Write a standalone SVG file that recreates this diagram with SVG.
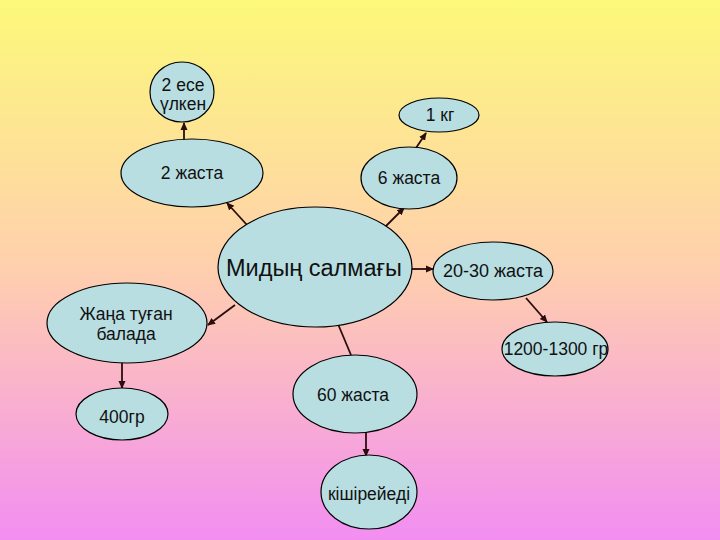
<svg xmlns="http://www.w3.org/2000/svg" width="720" height="540" viewBox="0 0 720 540">
<defs>
<linearGradient id="bg" x1="0" y1="0" x2="0" y2="1">
<stop offset="0" stop-color="#FCF97A"/>
<stop offset="0.5" stop-color="#FFCFAE"/>
<stop offset="1" stop-color="#F28EF2"/>
</linearGradient>
<marker id="ah" markerWidth="8" markerHeight="8" refX="7" refY="4" orient="auto" markerUnits="userSpaceOnUse">
<path d="M0,0.5 L8,4 L0,7.5 Z" fill="#2a0d0d"/>
</marker>
<style>
.n ellipse{fill:#B8DEE2;stroke:#000;stroke-width:1.2}
.n text{font-family:"Liberation Sans",Arial,sans-serif;font-size:17.5px;fill:#111;text-anchor:middle}
.c line{stroke:#2a0d0d;stroke-width:1.8}
</style>
</defs>
<rect width="720" height="540" fill="url(#bg)"/>
<g class="c">
<line x1="184" y1="140" x2="184" y2="123" marker-end="url(#ah)"/>
<line x1="416" y1="148" x2="426" y2="133" marker-end="url(#ah)"/>
<line x1="247" y1="225" x2="227" y2="203" marker-end="url(#ah)"/>
<line x1="385" y1="227" x2="404" y2="208" marker-end="url(#ah)"/>
<line x1="412" y1="269" x2="433" y2="269" marker-end="url(#ah)"/>
<line x1="526" y1="298" x2="547" y2="322" marker-end="url(#ah)"/>
<line x1="235" y1="305" x2="208" y2="325" marker-end="url(#ah)"/>
<line x1="122" y1="363" x2="122" y2="388" marker-end="url(#ah)"/>
<line x1="338" y1="324" x2="351" y2="355"/>
<line x1="366" y1="433" x2="366" y2="456" marker-end="url(#ah)"/>
</g>
<g id="n-2ese" class="n"><ellipse cx="182" cy="92" rx="32" ry="30"/><text x="183" y="91">2 есе</text><text x="183" y="110">үлкен</text></g>
<g id="n-1kg" class="n"><ellipse cx="439" cy="115" rx="40" ry="17"/><text x="440" y="121">1 кг</text></g>
<g id="n-2zhasta" class="n"><ellipse cx="192" cy="173" rx="71" ry="34"/><text x="192" y="179">2 жаста</text></g>
<g id="n-6zhasta" class="n"><ellipse cx="409" cy="178" rx="48" ry="31"/><text x="409" y="184">6 жаста</text></g>
<g id="n-center" class="n"><ellipse cx="315" cy="267" rx="97" ry="60"/><text x="314" y="276" style="font-size:23.5px">Мидың салмағы</text></g>
<g id="n-2030" class="n"><ellipse cx="493" cy="271" rx="60" ry="29"/><text x="493" y="277" style="font-size:18px">20-30 жаста</text></g>
<g id="n-1200" class="n"><ellipse cx="555" cy="349" rx="53" ry="27"/><text x="556" y="355" style="font-size:17.5px">1200-1300 гр</text></g>
<g id="n-zhana" class="n"><ellipse cx="127" cy="323" rx="80" ry="40"/><text x="126" y="320">Жаңа туған</text><text x="126" y="340">балада</text></g>
<g id="n-400" class="n"><ellipse cx="122" cy="414" rx="46" ry="26"/><text x="122" y="423">400гр</text></g>
<g id="n-60" class="n"><ellipse cx="355" cy="394" rx="62" ry="39"/><text x="353" y="401">60 жаста</text></g>
<g id="n-kish" class="n"><ellipse cx="369" cy="492" rx="48" ry="37"/><text x="369" y="500">кішірейеді</text></g>
</svg>
